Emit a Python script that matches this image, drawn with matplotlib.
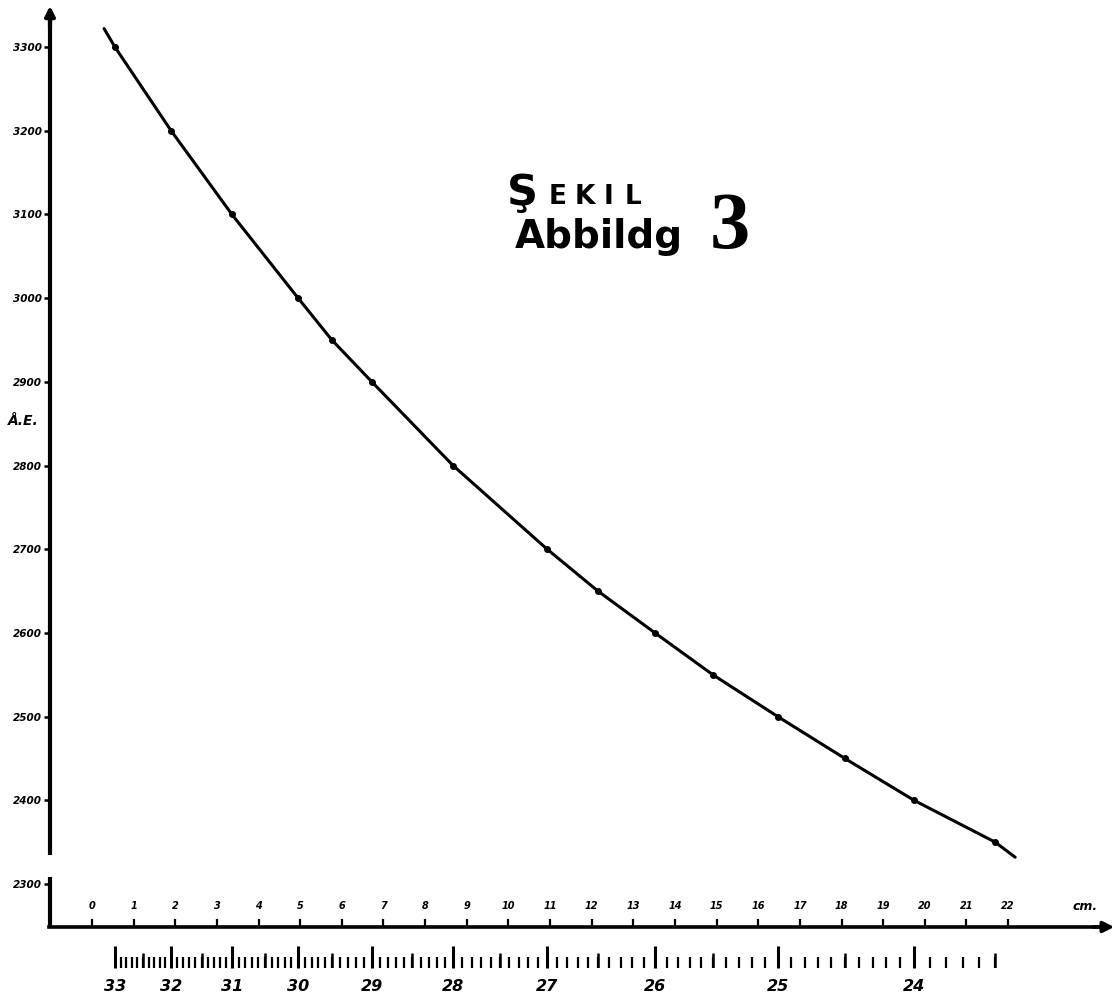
import numpy as np
import matplotlib
matplotlib.use("Agg")
import matplotlib.pyplot as plt

# ---------------- data ----------------
marker_cm = [0.55, 1.90, 3.36, 4.95, 5.76, 6.72, 8.67, 10.93, 12.15, 13.52,
             14.91, 16.47, 18.08, 19.74, 21.69]
marker_ae = [3300, 3200, 3100, 3000, 2950, 2900, 2800, 2700, 2650, 2600,
             2550, 2500, 2450, 2400, 2350]
curve_cm = [0.29] + marker_cm + [22.17]
curve_ae = [3322] + marker_ae + [2332]

cm_ticks = list(range(0, 23))
cm_labels = [str(v) for v in cm_ticks]
ae_ticks = list(range(2300, 3301, 100))
ae_labels = [str(v) for v in ae_ticks]

scale_major_ae = list(range(3300, 2399, -100))
scale_major_labels = ["33", "32", "31", "30", "29", "28", "27", "26", "25", "24"]
scale_mid_ae = list(range(3250, 2349, -100))
scale_minor_ae = list(range(3300, 2349, -10))

# ---------------- layout helpers ----------------
W, H = 1119, 1002
X0, PXCM = 92.0, 41.64     # pixel of 0 cm, pixels per cm
Y0, PXAE = 47.0, 0.837     # pixel of 3300 AE, pixels per AE unit


def px2cm(px):
    return (px - X0) / PXCM


def py2ae(py):
    return 3300 - (py - Y0) / PXAE


def fx(px):
    return px / W


def fy(py):
    return 1 - py / H


fig = plt.figure(figsize=(W / 100, H / 100), dpi=100, facecolor="white")
ax = fig.add_axes([0, 0, 1, 1])
ax.set_facecolor("white")
ax.set_xlim(px2cm(0), px2cm(W))
ax.set_ylim(py2ae(H), py2ae(0))

for s in ["top", "right"]:
    ax.spines[s].set_visible(False)
ax.spines["left"].set_position(("data", px2cm(50)))
ax.spines["left"].set_bounds(py2ae(853), py2ae(12))
ax.spines["left"].set_linewidth(3)
ax.spines["bottom"].set_position(("data", py2ae(927)))
ax.spines["bottom"].set_bounds(px2cm(49), px2cm(1100))
ax.spines["bottom"].set_linewidth(2.6)

# lower piece of the broken y axis
ax.plot([px2cm(50), px2cm(50)], [py2ae(877), py2ae(928)], color="k", lw=3,
        solid_capstyle="butt")
# arrow heads
ax.annotate("", xy=(px2cm(50), py2ae(3)), xytext=(px2cm(50), py2ae(30)),
            arrowprops=dict(arrowstyle="-|>", color="k", lw=3, mutation_scale=14))
ax.annotate("", xy=(px2cm(1117), py2ae(927)), xytext=(px2cm(1090), py2ae(927)),
            arrowprops=dict(arrowstyle="-|>", color="k", lw=2.6, mutation_scale=16))

# y ticks
ax.set_yticks(ae_ticks, labels=ae_labels, fontsize=7.5, fontweight="bold",
              fontstyle="italic")
ax.tick_params(axis="y", direction="out", length=4, width=1.8, pad=2)
# x ticks (labels above the axis line)
ax.set_xticks(cm_ticks, labels=cm_labels, fontsize=7, fontweight="bold",
              fontstyle="italic")
ax.tick_params(axis="x", direction="in", length=5.5, width=1.6, pad=-18.5)

# curve and measured points
ax.plot(curve_cm, curve_ae, color="k", lw=2.2, solid_capstyle="round")
ax.plot(marker_cm, marker_ae, "o", color="k", ms=4)

# texts
fig.text(fx(1085), fy(907), "cm.", fontsize=9, fontweight="bold",
         fontstyle="italic", ha="center", va="center")
fig.text(fx(23), fy(421), "Å.E.", fontsize=10, fontweight="bold",
         fontstyle="italic", ha="center", va="center")

fig.text(fx(522), fy(205), "Ş", fontsize=31, fontweight="bold",
         family="DejaVu Sans", ha="center", va="baseline")
for ch, cx in zip(["E", "K", "I", "L"], [558, 585, 609, 633]):
    fig.text(fx(cx), fy(204), ch, fontsize=19, fontweight="bold",
             family="DejaVu Sans", ha="center", va="baseline")
fig.text(fx(515), fy(248), "Abbildg", fontsize=28, fontweight="bold",
         family="DejaVu Sans", ha="left", va="baseline")
fig.text(fx(730), fy(248), "3", fontsize=58, fontweight="bold",
         family="Liberation Serif", ha="center", va="baseline")

# ---------------- lower wavelength scale ----------------
inv_ae = np.array(curve_ae[::-1], dtype=float)
inv_cm = np.array(curve_cm[::-1], dtype=float)


def ae2cm(a):
    return np.interp(np.asarray(a, dtype=float), inv_ae, inv_cm)


base_py = 968
sax = fig.add_axes([0, fy(base_py), 1, 30 / H])
sax.set_xlim(ax.get_xlim())
sax.set_ylim(0, 30)
sax.patch.set_alpha(0)
for s in sax.spines.values():
    s.set_visible(False)
sax.yaxis.set_visible(False)
sax.set_xticks(ae2cm(scale_major_ae), labels=scale_major_labels, fontsize=11.5,
               fontweight="bold", fontstyle="italic")
sax.set_xticks(ae2cm(scale_minor_ae), minor=True)
sax.tick_params(axis="x", which="major", direction="in", length=16, width=2.2,
                pad=8)
sax.tick_params(axis="x", which="minor", direction="in", length=8, width=1.6)
sax.vlines(ae2cm(scale_mid_ae), 0, 15.5, color="k", lw=1.8)

fig.savefig("out.png", dpi=100, facecolor="white")
